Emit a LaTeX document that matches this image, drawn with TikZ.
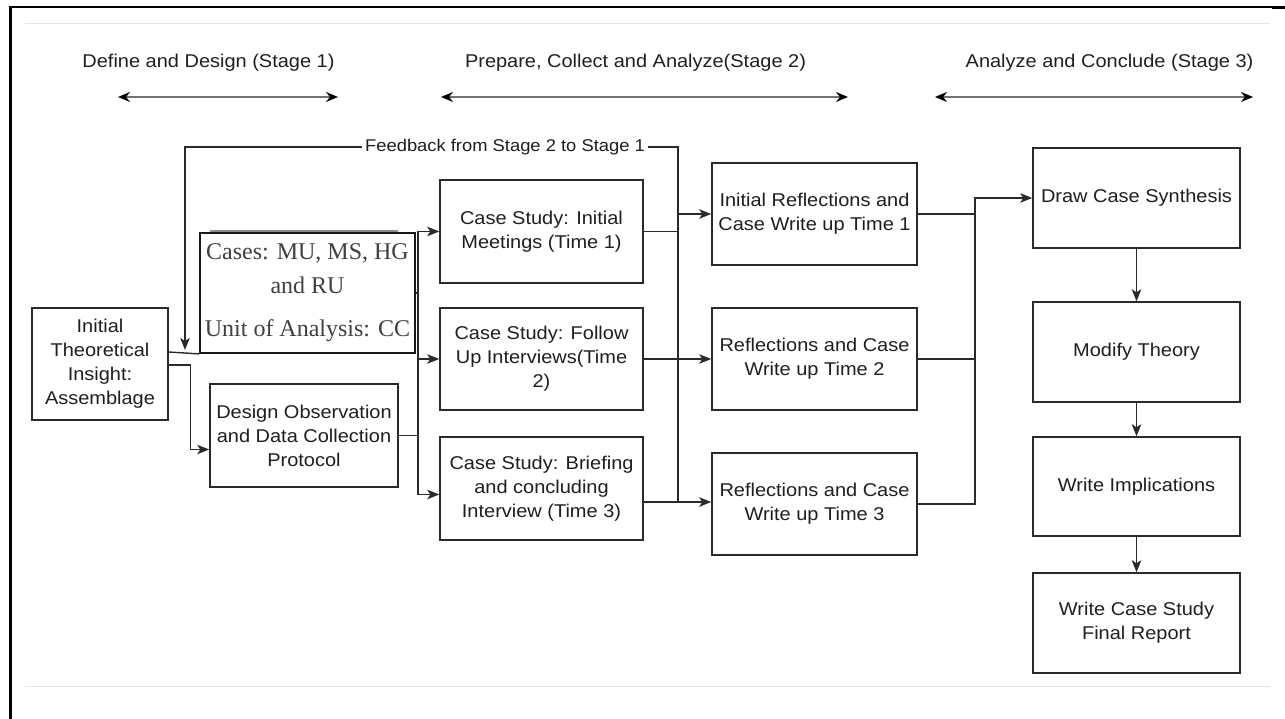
\documentclass[tikz,border=0pt]{standalone}
\usepackage{fontspec}
\setmainfont{Liberation Sans}[FakeStretch=1.08]
\newfontfamily\casefont{Liberation Serif}
\usetikzlibrary{arrows.meta}

\definecolor{ink}{HTML}{1F1F1F}
\definecolor{edge}{HTML}{2A2A2A}

\begin{document}
\begin{tikzpicture}[x=1pt,y=-1pt,
  box/.style={draw=edge, line width=1.5pt, fill=white, align=center, inner sep=0pt,
              text=ink, font=\fontsize{18.5}{24}\selectfont},
  ln/.style={draw=edge, line width=1.4pt},
  arr/.style={ln, -{Stealth[length=12pt,width=9.5pt,inset=3pt]}},
  stagearr/.style={draw=black!55, line width=1.8pt,
                   {Stealth[length=12pt,width=10pt,black]}-{Stealth[length=12pt,width=10pt,black]}},
  stagelbl/.style={text=ink, font=\fontsize{18.5}{22}\selectfont, inner sep=0pt},
  faint/.style={draw=black!10, line width=1pt}
]
\useasboundingbox (0,0) rectangle (1285,719);

% page frame and faint ruling
\draw[line width=3pt] (10,719) -- (10,7);
\draw[line width=2pt] (9,7) -- (1285,7);
\draw[line width=3.5pt] (1272,7.5) -- (1285,7.5);
\draw[faint] (25,24) -- (1270,24);
\draw[faint] (25,686) -- (1270,686);

% stage headings with their spans
\node[stagelbl] (st1) at (208.5,63) {Define and Design (Stage 1)};
\node[stagelbl] (st2) at (635.5,63) {Prepare, Collect and Analyze(Stage 2)};
\node[stagelbl] (st3) at (1109.5,63) {Analyze and Conclude (Stage 3)};
\coordinate (s1a) at (118,97);  \coordinate (s1b) at (338,97);
\coordinate (s2a) at (441,97);  \coordinate (s2b) at (848,97);
\coordinate (s3a) at (935,97);  \coordinate (s3b) at (1253,97);
\draw[stagearr] (s1a) -- (s1b);
\draw[stagearr] (s2a) -- (s2b);
\draw[stagearr] (s3a) -- (s3b);

% stage 1
\node[box, minimum width=136pt, minimum height=112pt] (init) at (100,364)
  {Initial\\Theoretical\\Insight:\\Assemblage};
\node[box, minimum width=188pt, minimum height=103pt] (design) at (304,435.5)
  {Design Observation\\and Data Collection\\Protocol};

% stage 2
\node[box, minimum width=203pt, minimum height=103pt] (cs1) at (541.5,231.5)
  {Case Study: Initial\\Meetings (Time 1)};
\node[box, minimum width=203pt, minimum height=102pt] (cs2) at (541.5,359)
  {Case Study: Follow\\Up Interviews(Time\\2)};
\node[box, minimum width=203pt, minimum height=103pt] (cs3) at (541.5,488.5)
  {Case Study: Briefing\\and concluding\\Interview (Time 3)};
\node[box, minimum width=205pt, minimum height=102pt] (r1) at (814.5,214)
  {Initial Reflections and\\Case Write up Time 1};
\node[box, minimum width=205pt, minimum height=102pt] (r2) at (814.5,359)
  {Reflections and Case\\Write up Time 2};
\node[box, minimum width=205pt, minimum height=102pt] (r3) at (814.5,504)
  {Reflections and Case\\Write up Time 3};

% stage 3
\node[box, minimum width=207pt, minimum height=100pt] (synth) at (1136.5,198)
  {Draw Case Synthesis};
\node[box, minimum width=207pt, minimum height=100pt] (modify) at (1136.5,352)
  {Modify Theory};
\node[box, minimum width=207pt, minimum height=99pt] (impl) at (1136.5,486.5)
  {Write Implications};
\node[box, minimum width=207pt, minimum height=100pt] (final) at (1136.5,623)
  {Write Case Study\\Final Report};

% routing columns
\coordinate (bx) at (418,0);
\coordinate (fx) at (678,0);
\coordinate (rx) at (975,0);
\coordinate (fbtop) at (678,147);
\coordinate (fbend) at (185,350);

% feedback loop from stage 2 back to stage 1
\draw[arr] ([yshift=-13.5pt]cs3.east) -| (fbtop) -| (fbend);
\node[fill=white, inner xsep=3pt, inner ysep=1pt, text=ink,
      font=\fontsize{17}{20}\selectfont] (fblbl) at (505,147)
  {Feedback from Stage 2 to Stage 1};

% stage 1 connectors
\draw[arr] ([yshift=-1pt]init.east) -- ++(22,0) |- ([yshift=-14pt]design.west);
\draw[ln] (design.east) -- (bx |- design.east);

% scope box laid over the stage 1 area
\draw[black!45, line width=2pt] (210,231) -- (398,231);
\node[box, draw=black!90, line width=1.8pt, minimum width=215pt, minimum height=120pt,
      text=black!75, font=\casefont\fontsize{24}{34}\selectfont] (cases) at (307.5,293)
  {Cases: MU, MS, HG\\and RU\\[9pt]Unit of Analysis: CC};
\draw[ln] ([yshift=12pt]init.east) -- (cases.south west);
\draw[ln] (cases.east) -- (bx |- cases.east);

% distribution to the three case studies
\draw[arr] (bx |- design.east) |- (cs1.west);
\draw[arr] (bx |- design.east) |- (cs2.west);
\draw[arr] (bx |- design.east) |- ([yshift=-6pt]cs3.west);

% case studies to reflections
\draw[arr] (cs1.east) -- (fx |- cs1.east) |- (r1.west);
\draw[arr] (cs2.east) -- (r2.west);
\draw[arr] ([yshift=-13.5pt]cs3.east) -- ([yshift=-13.5pt]cs3.east -| r3.west);

% reflections to synthesis
\draw[ln] (r1.east) -- (rx |- r1.east);
\draw[ln] (r2.east) -- (rx |- r2.east);
\draw[arr] (r3.east) -- (rx |- r3.east) |- (synth.west);

% stage 3 sequence
\draw[arr] (synth) -- (modify);
\draw[arr] (modify) -- (impl);
\draw[arr] (impl) -- (final);
\end{tikzpicture}
\end{document}
